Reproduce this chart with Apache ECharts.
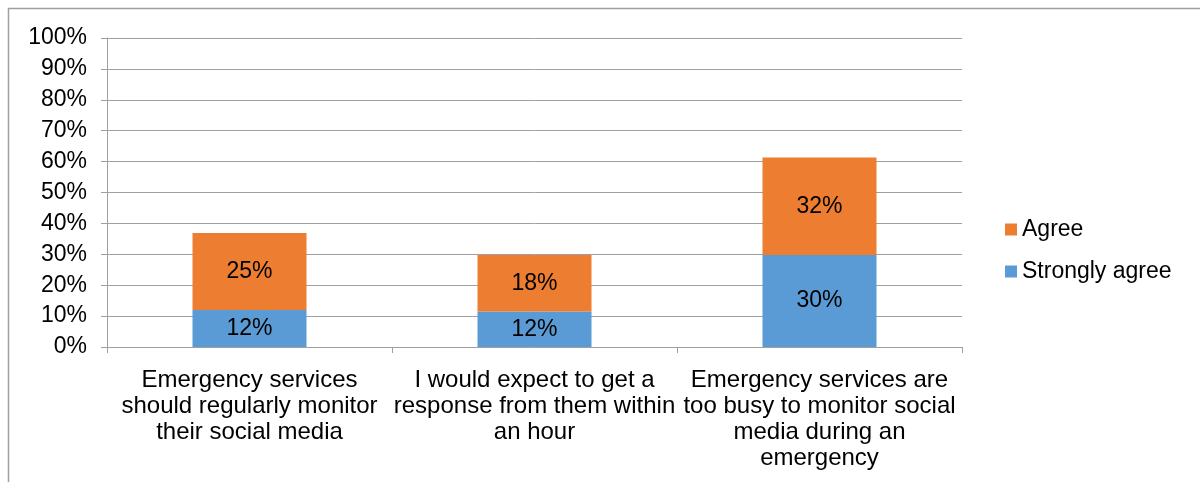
<!DOCTYPE html>
<html><head><meta charset="utf-8">
<script src="https://cdn.jsdelivr.net/npm/echarts@6/dist/echarts.min.js"></script>
<style>html,body{margin:0;padding:0;background:#fff}#c{width:1200px;height:482px}</style>
</head><body><div id="c"></div>
<script>
const categories = ["Emergency services\nshould regularly monitor\ntheir social media", "I would expect to get a\nresponse from them within\nan hour", "Emergency services are\ntoo busy to monitor social\nmedia during an\nemergency"];
const stronglyAgree = [12.0, 11.5, 29.8];
const agree = [24.9, 18.3, 31.5];
const yTicks = [0,10,20,30,40,50,60,70,80,90,100];
const font = "'Liberation Sans', Arial, sans-serif";
const chart = echarts.init(document.getElementById('c'));
const lbl = {show:true, position:'inside', color:'#000', fontSize:23, fontFamily:font, formatter:p=>Math.round(p.value)+'%'};
chart.setOption({
  animation:false,
  grid:{left:107, right:238, top:38, bottom:135, containLabel:false},
  graphic:[
    {type:'line', shape:{x1:8,y1:8.5,x2:1200,y2:8.5}, style:{stroke:'#a0a0a0', lineWidth:1.5}},
    {type:'line', shape:{x1:8.5,y1:8,x2:8.5,y2:482}, style:{stroke:'#a0a0a0', lineWidth:1.5}}
  ],
  legend:{orient:'vertical', left:1000, top:213, itemGap:19, itemWidth:12, itemHeight:12, icon:'rect',
    data:['Agree','Strongly agree'], textStyle:{fontSize:23, fontFamily:font, color:'#000', padding:[0,0,0,0]}},
  xAxis:{type:'category', data:categories,
    axisLine:{lineStyle:{color:'#a0a0a0'}},
    axisTick:{show:true, length:6, alignWithLabel:false, lineStyle:{color:'#a0a0a0'}},
    axisLabel:{interval:0, fontSize:24, fontFamily:font, color:'#000', lineHeight:26, margin:20}},
  yAxis:{type:'value', min:0, max:100, interval:10,
    axisLine:{show:true, lineStyle:{color:'#a0a0a0'}},
    axisTick:{show:true, length:6, lineStyle:{color:'#a0a0a0'}},
    splitLine:{lineStyle:{color:'#a0a0a0'}},
    axisLabel:{fontSize:23, fontFamily:font, color:'#000', margin:20, formatter:v=>yTicks.includes(v)?v+'%':''}},
  series:[
    {name:'Strongly agree', type:'bar', stack:'s', data:stronglyAgree, barWidth:'40%', itemStyle:{color:'#5b9bd5'}, label:lbl},
    {name:'Agree', type:'bar', stack:'s', data:agree, barWidth:'40%', itemStyle:{color:'#ed7d31'}, label:lbl}
  ]
});
</script></body></html>
